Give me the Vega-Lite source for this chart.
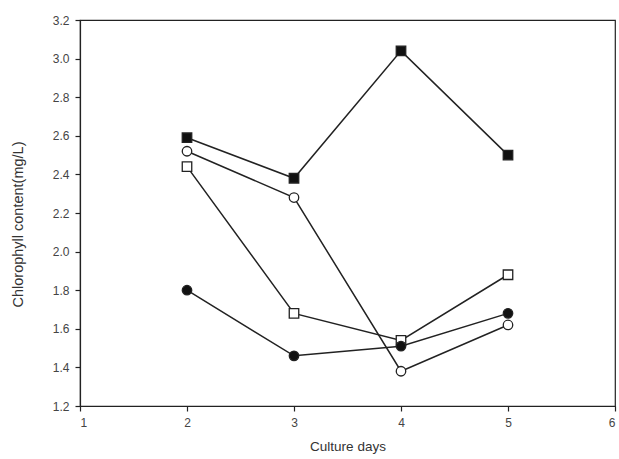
{
  "$schema": "https://vega.github.io/schema/vega-lite/v6.json",
  "width": 535,
  "height": 386,
  "autosize": {"type": "none"},
  "padding": {"left": 80, "top": 20, "right": 4, "bottom": 53},
  "background": "white",
  "config": {
    "view": {"stroke": "#222", "strokeWidth": 1.2},
    "font": "Liberation Sans",
    "axis": {
      "grid": false,
      "domainColor": "#222",
      "domainWidth": 1.2,
      "tickColor": "#222",
      "tickSize": 5,
      "tickWidth": 1.2,
      "labelFont": "Liberation Sans",
      "labelFontSize": 12,
      "labelColor": "#444",
      "titleFont": "Liberation Sans",
      "titleFontSize": 13.5,
      "titleFontWeight": "normal",
      "titleColor": "#333"
    }
  },
  "data": {
    "values": [
      {"day": 2, "value": 2.59, "series": "A"},
      {"day": 3, "value": 2.38, "series": "A"},
      {"day": 4, "value": 3.04, "series": "A"},
      {"day": 5, "value": 2.50, "series": "A"},
      {"day": 2, "value": 2.52, "series": "B"},
      {"day": 3, "value": 2.28, "series": "B"},
      {"day": 4, "value": 1.38, "series": "B"},
      {"day": 5, "value": 1.62, "series": "B"},
      {"day": 2, "value": 2.44, "series": "C"},
      {"day": 3, "value": 1.68, "series": "C"},
      {"day": 4, "value": 1.54, "series": "C"},
      {"day": 5, "value": 1.88, "series": "C"},
      {"day": 2, "value": 1.80, "series": "D"},
      {"day": 3, "value": 1.46, "series": "D"},
      {"day": 4, "value": 1.51, "series": "D"},
      {"day": 5, "value": 1.68, "series": "D"}
    ]
  },
  "encoding": {
    "x": {
      "field": "day", "type": "quantitative",
      "scale": {"domain": [1, 6], "nice": false},
      "axis": {"values": [1, 2, 3, 4, 5, 6], "title": "Culture days", "titlePadding": 11, "labelPadding": 6}
    },
    "y": {
      "field": "value", "type": "quantitative",
      "scale": {"domain": [1.2, 3.2], "nice": false, "zero": false},
      "axis": {"values": [1.2, 1.4, 1.6, 1.8, 2.0, 2.2, 2.4, 2.6, 2.8, 3.0, 3.2], "format": ".1f", "title": "Chlorophyll content(mg/L)", "titleFontSize": 14.5, "titlePadding": 27, "titleY": 204, "labelPadding": 6}
    }
  },
  "layer": [
    {
      "mark": {"type": "line", "color": "#222", "strokeWidth": 1.5},
      "encoding": {"detail": {"field": "series"}}
    },
    {
      "mark": {"type": "point", "opacity": 1, "strokeWidth": 1.3, "stroke": "#222"},
      "encoding": {
        "shape": {
          "field": "series", "type": "nominal",
          "scale": {"domain": ["A", "B", "C", "D"], "range": ["square", "circle", "square", "circle"]},
          "legend": null
        },
        "fill": {
          "field": "series", "type": "nominal",
          "scale": {"domain": ["A", "B", "C", "D"], "range": ["#111", "#ffffff", "#ffffff", "#111"]},
          "legend": null
        },
        "size": {"value": 90}
      }
    }
  ]
}
